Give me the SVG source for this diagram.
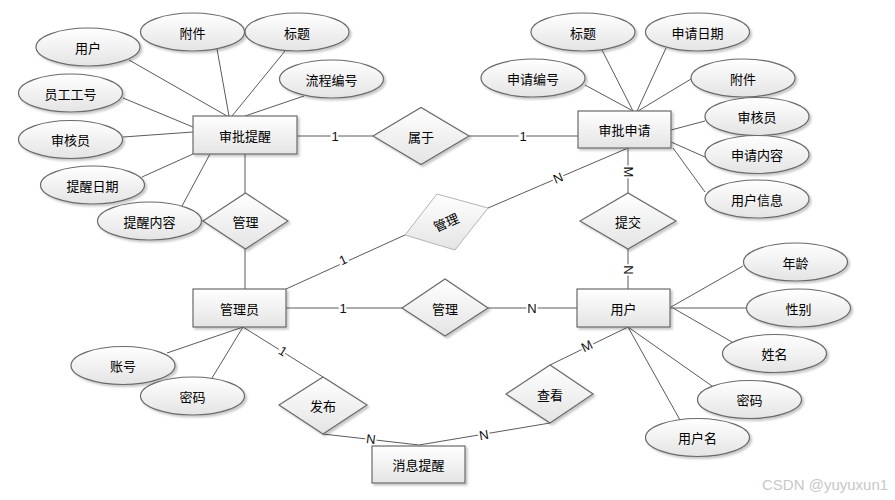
<svg xmlns="http://www.w3.org/2000/svg" width="895" height="500" viewBox="0 0 895 500">
<defs>
<linearGradient id="g" x1="0" y1="0" x2="0" y2="1">
<stop offset="0" stop-color="#ffffff"/>
<stop offset="1" stop-color="#e4e4e4"/>
</linearGradient>
<filter id="sh" x="-10%" y="-10%" width="130%" height="140%">
<feDropShadow dx="2" dy="2" stdDeviation="1" flood-color="#000" flood-opacity="0.22"/>
</filter>
</defs>
<style>
.s{fill:url(#g);stroke:#6a6a6a;stroke-width:1.2;filter:url(#sh)}
.r{fill:url(#g);stroke:#b4b4b4;stroke-width:1}
.t{font-family:"Noto Sans CJK SC","Noto Sans",sans-serif;font-size:13px;fill:#000;text-anchor:middle;dominant-baseline:central}
.c{stroke:#5a5a5a;stroke-width:1;fill:none}
.l{font-family:"Liberation Sans",Arial,sans-serif;font-size:13px;fill:#111;text-anchor:middle;dominant-baseline:central;stroke:#fff;stroke-width:4;paint-order:stroke}
.w{font-family:"Liberation Sans",Arial,sans-serif;font-size:15px;fill:#c8c8c8}
</style>
<rect width="895" height="500" fill="#fff"/>
<g id="connectors">
<path class="c" d="M129,60L227,116M217,49L229,116M285,51L232,116M304,96L245,116M123,98L193,127M123,137L193,132M142,177L193,154M182,206L210,154M245,154L245,193M245,249L245,289M297,136L373,136M469,136L578,136"/>
<path class="c" d="M585,85L633,111M602,50L633,111M666,48L637,111M691,79L638,111M705,121L671,130M705,157L671,142M705,192L673,148M628,148L628,193M628,249L628,289"/>
<path class="c" d="M286,289L405,235M488,208L628,148M286,308L402,308M488,308L577,308M167,353L243,327M212,378L243,327M243,327L323,377M323,434L419,445M550,423L419,445M628,327L550,365"/>
<path class="c" d="M743,266L671,307M746,308L670,308M732,342L673,308M712,386L628,327M680,420L628,327"/>
<text class="l" x="335" y="136">1</text>
<text class="l" x="523" y="136">1</text>
<text class="l" transform="translate(628,172) rotate(90)">M</text>
<text class="l" transform="translate(628,270) rotate(90)">N</text>
<text class="l" transform="translate(343,260) rotate(-24)">1</text>
<text class="l" transform="translate(558,178) rotate(-23)">N</text>
<text class="l" x="343" y="308">1</text>
<text class="l" x="532" y="308">N</text>
<text class="l" transform="translate(283,351) rotate(32)">1</text>
<text class="l" transform="translate(371,439) rotate(6.5)">N</text>
<text class="l" transform="translate(484,435) rotate(-9.5)">N</text>
<text class="l" transform="translate(587,346) rotate(-26)">M</text>
</g>
<g id="e-shenpitixing"><rect class="s" x="193" y="116" width="104" height="38"/><text class="t" x="245" y="135">审批提醒</text></g>
<g id="e-shenpishenqing"><rect class="s" x="578" y="111" width="93" height="37"/><text class="t" x="624.5" y="129.5">审批申请</text></g>
<g id="e-guanliyuan"><rect class="s" x="193" y="289" width="93" height="38"/><text class="t" x="239.5" y="308">管理员</text></g>
<g id="e-yonghu"><rect class="s" x="577" y="289" width="93" height="38"/><text class="t" x="623.5" y="308">用户</text></g>
<g id="e-xiaoxitixing"><rect class="s" x="372" y="446" width="93" height="37"/><text class="t" x="418.5" y="464.5">消息提醒</text></g>
<g id="r-shuyu"><polygon class="s" points="373,136 421,107.5 469,136 421,164.5"/><text class="t" x="421" y="136">属于</text></g>
<g id="r-guanli1"><polygon class="s" points="203,221 245.5,193 288,221 245.5,249"/><text class="t" x="245.5" y="221">管理</text></g>
<g id="r-guanli2"><polygon class="r" points="437,194 488,208 455,250 405,235"/><text class="t" transform="translate(446,222) rotate(-24)">管理</text></g>
<g id="r-tijiao"><polygon class="s" points="580,221 628,193 676,221 628,249"/><text class="t" x="628" y="221">提交</text></g>
<g id="r-guanli3"><polygon class="s" points="402,308 445,279 488,308 445,336"/><text class="t" x="445" y="308">管理</text></g>
<g id="r-fabu"><polygon class="s" points="279,405 323,377 367,405 323,434"/><text class="t" x="323" y="405">发布</text></g>
<g id="r-chakan"><polygon class="s" points="506,394 550,365 593,394 550,423"/><text class="t" x="550" y="394">查看</text></g>
<g id="a-yonghu1"><ellipse class="s" cx="88" cy="47" rx="52" ry="19"/><text class="t" x="88" y="47">用户</text></g>
<g id="a-fujian1"><ellipse class="s" cx="192.5" cy="32" rx="52" ry="19"/><text class="t" x="192.5" y="32">附件</text></g>
<g id="a-biaoti1"><ellipse class="s" cx="297" cy="32" rx="52" ry="19"/><text class="t" x="297" y="32">标题</text></g>
<g id="a-liucheng"><ellipse class="s" cx="331.5" cy="79" rx="52" ry="19"/><text class="t" x="331.5" y="79">流程编号</text></g>
<g id="a-yuangong"><ellipse class="s" cx="70.5" cy="93" rx="52" ry="19"/><text class="t" x="70.5" y="93">员工工号</text></g>
<g id="a-shenhe1"><ellipse class="s" cx="70.5" cy="139.5" rx="52" ry="19"/><text class="t" x="70.5" y="139.5">审核员</text></g>
<g id="a-tixingriqi"><ellipse class="s" cx="92.5" cy="185" rx="52" ry="19"/><text class="t" x="92.5" y="185">提醒日期</text></g>
<g id="a-tixingneirong"><ellipse class="s" cx="149.5" cy="221" rx="52" ry="19"/><text class="t" x="149.5" y="221">提醒内容</text></g>
<g id="a-biaoti2"><ellipse class="s" cx="583" cy="32" rx="52" ry="19"/><text class="t" x="583" y="32">标题</text></g>
<g id="a-shenqingriqi"><ellipse class="s" cx="697.5" cy="32" rx="52" ry="19"/><text class="t" x="697.5" y="32">申请日期</text></g>
<g id="a-shenqingbianhao"><ellipse class="s" cx="533" cy="78" rx="52" ry="19"/><text class="t" x="533" y="78">申请编号</text></g>
<g id="a-fujian2"><ellipse class="s" cx="743" cy="78" rx="52" ry="19"/><text class="t" x="743" y="78">附件</text></g>
<g id="a-shenhe2"><ellipse class="s" cx="757" cy="116.5" rx="52" ry="19"/><text class="t" x="757" y="116.5">审核员</text></g>
<g id="a-shenqingneirong"><ellipse class="s" cx="757" cy="154.5" rx="52" ry="19"/><text class="t" x="757" y="154.5">申请内容</text></g>
<g id="a-yonghuxinxi"><ellipse class="s" cx="757" cy="199" rx="52" ry="19"/><text class="t" x="757" y="199">用户信息</text></g>
<g id="a-zhanghao"><ellipse class="s" cx="123" cy="365.5" rx="52" ry="19"/><text class="t" x="123" y="365.5">账号</text></g>
<g id="a-mima1"><ellipse class="s" cx="192.5" cy="396" rx="52" ry="19"/><text class="t" x="192.5" y="396">密码</text></g>
<g id="a-nianling"><ellipse class="s" cx="795.5" cy="262" rx="52" ry="19"/><text class="t" x="795.5" y="262">年龄</text></g>
<g id="a-xingbie"><ellipse class="s" cx="798.5" cy="308" rx="52" ry="19"/><text class="t" x="798.5" y="308">性别</text></g>
<g id="a-xingming"><ellipse class="s" cx="774.5" cy="353.5" rx="52" ry="19"/><text class="t" x="774.5" y="353.5">姓名</text></g>
<g id="a-mima2"><ellipse class="s" cx="749.5" cy="399.5" rx="52" ry="19"/><text class="t" x="749.5" y="399.5">密码</text></g>
<g id="a-yonghuming"><ellipse class="s" cx="697.5" cy="437.5" rx="52" ry="19"/><text class="t" x="697.5" y="437.5">用户名</text></g>
<text class="w" x="762" y="490">CSDN @yuyuxun1</text>
</svg>
